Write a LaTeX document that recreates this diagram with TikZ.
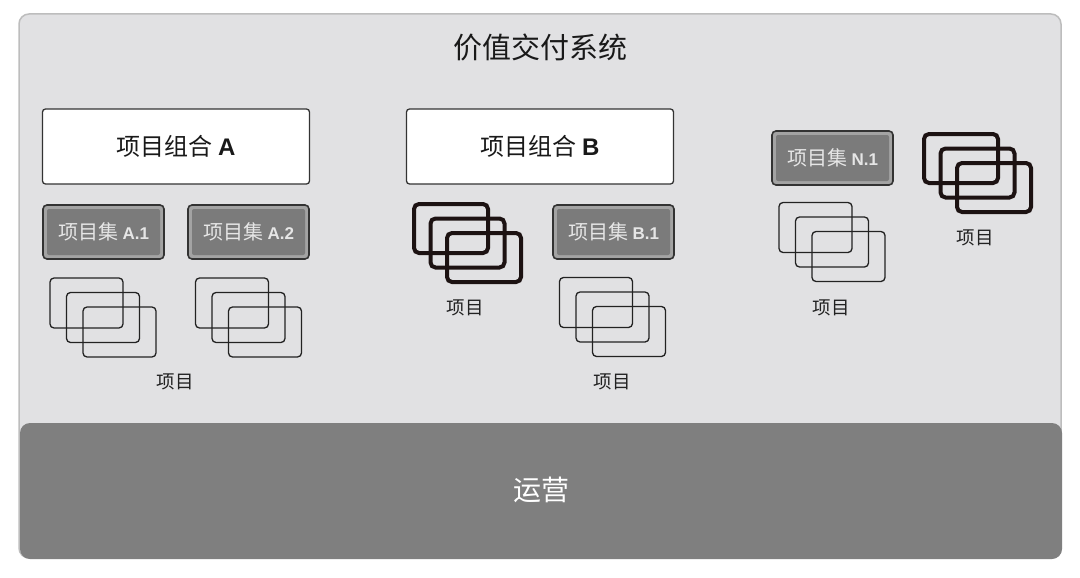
\documentclass[tikz,border=0pt]{standalone}
\usepackage{fontspec}
\setmainfont{Noto Sans CJK SC}
\newfontfamily\latb{Liberation Sans}
\definecolor{framefill}{HTML}{E1E1E3}
\definecolor{frameline}{HTML}{BDBDBD}
\definecolor{opsfill}{HTML}{7F7F7F}
\definecolor{boxline}{HTML}{333333}
\definecolor{progring}{HTML}{A3A3A3}
\definecolor{progfill}{HTML}{7B7B7B}
\definecolor{progtext}{HTML}{E6E6E6}
\definecolor{stackline}{HTML}{222222}
\definecolor{thickline}{HTML}{1C1212}
\definecolor{labeltext}{HTML}{222222}
\tikzset{
  outerframe/.style={draw=frameline, fill=framefill, line width=1.5pt, rounded corners=10pt,
    minimum width=1042pt, minimum height=544pt, inner sep=0pt},
  opsbox/.style={fill=opsfill, rounded corners=10pt, minimum width=1042pt, minimum height=136pt,
    inner sep=0pt, text=white, font=\fontsize{28}{32}\selectfont},
  titletext/.style={text=black!90, font=\fontsize{29}{34}\selectfont},
  portbox/.style={draw=boxline, fill=white, line width=1.3pt, rounded corners=3pt,
    minimum width=267pt, minimum height=75pt, inner sep=0pt, text=black!90,
    font=\fontsize{24}{28}\selectfont},
  progbox/.style={draw=boxline, fill=progring, line width=1.6pt, rounded corners=4pt,
    minimum width=121pt, minimum height=54pt, inner sep=0pt, text=progtext,
    font=\fontsize{20}{23}\selectfont,
    path picture={\fill[progfill, rounded corners=2pt]
      ([shift={(4pt,-4pt)}]path picture bounding box.north west) rectangle
      ([shift={(-4pt,4pt)}]path picture bounding box.south east);}},
  thinrect/.style={draw=stackline, line width=1.3pt, rounded corners=4pt,
    minimum width=73pt, minimum height=50pt, inner sep=0pt},
  thickrect/.style={draw=thickline, line width=4pt, rounded corners=5pt,
    minimum width=74pt, minimum height=49pt, inner sep=0pt},
  lbl/.style={text=labeltext, font=\fontsize{18.5}{22}\selectfont},
}
\newcommand\mystack[4]{%
  \node[#4] (#1a) at (#2,#3) {};
  \node[#4] (#1b) at ([shift={(16.5,14.5)}]#1a.center) {};
  \node[#4] (#1c) at ([shift={(16.5,14.5)}]#1b.center) {};
}
\begin{document}
\begin{tikzpicture}[x=1pt,y=-1pt]
\useasboundingbox[fill=white] (0,0) rectangle (1080,578);
\node[outerframe] (frame) at (540,286) {};
\node[opsbox] (ops) at (541,491) {\raisebox{4pt}{运营}};
\node[titletext] (title) at (540,47) {价值交付系统};
% portfolios
\node[portbox] (portA) at (176,146.5) {项目组合 {\latb\bfseries A}};
\node[portbox] (portB) at (540,146.5) {\raisebox{2pt}{项目组合 {\latb\bfseries B}}};
% programs
\node[progbox] (progA1) at (103.5,232) {项目集 {\latb\bfseries\fontsize{17}{20}\selectfont A.1}};
\node[progbox] (progA2) at (248.5,232) {项目集 {\latb\bfseries\fontsize{17}{20}\selectfont A.2}};
\node[progbox] (progB1) at (613.5,232) {项目集 {\latb\bfseries\fontsize{17}{20}\selectfont B.1}};
\node[progbox] (progN1) at (832.5,158) {项目集 {\latb\bfseries\fontsize{17}{20}\selectfont N.1}};
% project stacks
\mystack{sA1}{86.5}{303}{thinrect}
\mystack{sA2}{232}{303}{thinrect}
\mystack{sB1}{596}{302.5}{thinrect}
\mystack{sN1}{815.5}{227.5}{thinrect}
\mystack{tB}{451}{228.5}{thickrect}
\mystack{tN}{961}{158.5}{thickrect}
% labels
\node[lbl] (lA) at (175,382) {项目};
\node[lbl] (lB) at (465,308) {项目};
\node[lbl] (lB1) at (612,382) {项目};
\node[lbl] (lN1) at (831,308) {项目};
\node[lbl] (lN) at (975,238) {项目};
\end{tikzpicture}
\end{document}
